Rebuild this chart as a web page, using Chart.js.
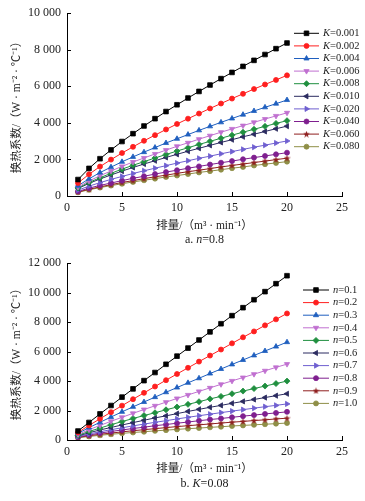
<!DOCTYPE html>
<html>
<head>
<meta charset="utf-8">
<script src="https://cdn.jsdelivr.net/npm/chart.js@4.4.1/dist/chart.umd.min.js"></script>
<style>
html, body { margin: 0; padding: 0; background: #fff; }
#wrap { position: relative; width: 365px; height: 501px; }
#c1 { position: absolute; left: 0; top: 0; }
#c2 { position: absolute; left: 0; top: 250px; }
</style>
</head>
<body>
<div id="wrap">
  <canvas id="c1" width="365" height="250"></canvas>
  <canvas id="c2" width="365" height="251"></canvas>
</div>
<script>
// flow rate (m3/min)
var flow = [1,2,3,4,5,6,7,8,9,10,11,12,13,14,15,16,17,18,19,20];

// chart a: n = 0.8, different K
var kLabels = ['0.001','0.002','0.004','0.006','0.008','0.010','0.020','0.040','0.060','0.080'];
var hK001 = [900,1510,2040,2520,2980,3410,3830,4230,4620,4990,5360,5720,6070,6420,6760,7090,7420,7740,8060,8370];
var hK002 = [710,1190,1610,1990,2350,2690,3020,3330,3640,3940,4230,4510,4790,5060,5330,5590,5850,6100,6350,6600];
var hK004 = [560,940,1280,1580,1870,2140,2400,2650,2900,3130,3360,3590,3810,4030,4240,4450,4650,4850,5050,5250];
var hK006 = [490,820,1110,1370,1620,1860,2080,2300,2510,2720,2910,3110,3300,3490,3670,3850,4030,4210,4380,4550];
var hK008 = [440,740,1000,1240,1470,1680,1880,2080,2270,2460,2640,2820,2990,3160,3330,3490,3650,3810,3970,4120];
var hK010 = [410,690,930,1150,1360,1560,1750,1930,2110,2280,2450,2610,2770,2930,3080,3240,3380,3530,3680,3820];
var hK020 = [320,540,730,910,1070,1230,1380,1520,1660,1800,1930,2060,2180,2310,2430,2550,2670,2780,2900,3010];
var hK040 = [250,430,580,710,840,970,1080,1200,1310,1410,1520,1620,1720,1820,1910,2010,2100,2190,2280,2370];
var hK060 = [220,370,500,620,740,840,950,1050,1140,1240,1330,1410,1500,1590,1670,1750,1830,1910,1990,2070];
var hK080 = [200,340,460,570,670,770,860,950,1040,1120,1200,1290,1360,1440,1520,1590,1670,1740,1810,1880];

// chart b: K = 0.08, different n
var nLabels = ['0.1','0.2','0.3','0.4','0.5','0.6','0.7','0.8','0.9','1.0'];
var hN01 = [610,1190,1770,2340,2910,3470,4030,4580,5140,5690,6240,6790,7340,7890,8440,8980,9520,10070,10610,11150];
var hN02 = [510,990,1440,1890,2330,2770,3200,3630,4060,4480,4900,5320,5730,6140,6560,6970,7370,7780,8190,8590];
var hN03 = [450,840,1200,1560,1910,2250,2580,2910,3240,3560,3880,4190,4510,4820,5130,5430,5740,6040,6340,6640];
var hN04 = [380,700,990,1270,1540,1810,2070,2320,2570,2820,3060,3300,3540,3780,4010,4240,4470,4700,4930,5150];
var hN05 = [320,580,810,1040,1250,1460,1660,1850,2050,2240,2420,2600,2790,2960,3140,3320,3490,3660,3830,4000];
var hN06 = [280,490,680,850,1020,1180,1340,1500,1640,1790,1940,2080,2220,2350,2490,2620,2750,2880,3010,3140];
var hN07 = [240,410,560,700,830,960,1080,1200,1310,1430,1540,1650,1750,1860,1960,2060,2160,2260,2350,2450];
var hN08 = [210,340,470,580,680,780,870,970,1050,1140,1220,1310,1390,1460,1540,1620,1690,1770,1840,1910];
var hN09 = [180,290,390,470,550,630,700,770,840,910,970,1030,1090,1150,1210,1260,1320,1370,1430,1480];
var hN10 = [150,240,320,390,450,510,560,620,670,720,770,810,860,900,950,990,1030,1070,1110,1150];

var seriesA = [hK001,hK002,hK004,hK006,hK008,hK010,hK020,hK040,hK060,hK080];
var seriesB = [hN01,hN02,hN03,hN04,hN05,hN06,hN07,hN08,hN09,hN10];

var SERIF = '"Liberation Serif", "Noto Sans CJK SC", serif';
Chart.defaults.font.family = SERIF;
Chart.defaults.color = '#222';

// small filled star for the 9th series
function makeStar(color) {
  var c = document.createElement('canvas');
  c.width = 7; c.height = 7;
  var g = c.getContext('2d');
  g.fillStyle = color;
  g.beginPath();
  for (var i = 0; i < 10; i++) {
    var r = i % 2 ? 1.5 : 3.5;
    var a = -Math.PI / 2 + i * Math.PI / 5;
    g.lineTo(3.5 + r * Math.cos(a), 3.8 + r * Math.sin(a));
  }
  g.closePath();
  g.fill();
  return c;
}

var looks = [
  { color: '#000000', style: 'rect', rot: 0, r: 3.3 },
  { color: '#ff1f1f', style: 'circle', rot: 0, r: 2.5 },
  { color: '#1f5fbf', style: 'triangle', rot: 0, r: 3 },
  { color: '#c070d0', style: 'triangle', rot: 180, r: 3 },
  { color: '#1f8f3f', style: 'rectRot', rot: 0, r: 3 },
  { color: '#2b2b60', style: 'triangle', rot: 270, r: 3 },
  { color: '#6f5fd0', style: 'triangle', rot: 90, r: 3 },
  { color: '#7f1f8f', style: 'circle', rot: 0, r: 2.5 },
  { color: '#8f1f1f', style: makeStar('#8f1f1f'), rot: 0, r: 3 },
  { color: '#8f8f47', style: 'circle', rot: 0, r: 2.5 }
];

function fmt(v) {
  if (v < 1000) return String(v);
  var t = Math.floor(v / 1000), rest = String(v % 1000);
  while (rest.length < 3) rest = '0' + rest;
  return t + ' ' + rest;
}

function drawMixed(ctx, parts, x, y, size, align) {
  var w = 0;
  parts.forEach(function (p) {
    ctx.font = (p[1] ? 'italic ' : '') + size + 'px ' + SERIF;
    w += ctx.measureText(p[0]).width;
  });
  var cx = align === 'center' ? x - w / 2 : x;
  parts.forEach(function (p) {
    ctx.font = (p[1] ? 'italic ' : '') + size + 'px ' + SERIF;
    ctx.fillText(p[0], cx, y);
    cx += ctx.measureText(p[0]).width;
  });
}

function makeChart(id, series, labels, sym, yMax, g, caption) {
  var datasets = series.map(function (arr, i) {
    var lk = looks[i];
    return {
      label: sym + '=' + labels[i],
      data: arr.map(function (v, j) { return { x: flow[j], y: v }; }),
      borderColor: lk.color,
      backgroundColor: lk.color,
      borderWidth: 1,
      pointStyle: lk.style,
      pointRotation: lk.rot,
      pointRadius: lk.r,
      pointBorderWidth: 0.8,
      tension: 0
    };
  });

  var extras = {
    id: 'extras',
    afterDraw: function (chart) {
      var ctx = chart.ctx, a = chart.chartArea;
      var xs = chart.scales.x, ys = chart.scales.y;
      ctx.save();
      // inward tick marks
      ctx.strokeStyle = '#000';
      ctx.lineWidth = 1;
      ctx.beginPath();
      xs.ticks.forEach(function (t) {
        var p = Math.round(xs.getPixelForValue(t.value)) + 0.5;
        ctx.moveTo(p, a.bottom);
        ctx.lineTo(p, a.bottom - 4);
      });
      ys.ticks.forEach(function (t) {
        var p = Math.round(ys.getPixelForValue(t.value)) + 0.5;
        ctx.moveTo(a.left, p);
        ctx.lineTo(a.left + 4, p);
      });
      ctx.stroke();
      // legend
      chart.data.datasets.forEach(function (ds, i) {
        var y = g.ly0 + i * 12.6;
        ctx.strokeStyle = ds.borderColor;
        ctx.lineWidth = 1;
        ctx.beginPath();
        ctx.moveTo(g.lx0, y);
        ctx.lineTo(g.lx1, y);
        ctx.stroke();
        ctx.fillStyle = ds.backgroundColor;
        ctx.lineWidth = 0.8;
        Chart.helpers.drawPoint(ctx, {
          pointStyle: ds.pointStyle, rotation: ds.pointRotation,
          radius: ds.pointRadius, borderWidth: 0.8
        }, (g.lx0 + g.lx1) / 2, y);
        ctx.fillStyle = '#222';
        ctx.textBaseline = 'middle';
        ctx.textAlign = 'left';
        drawMixed(ctx, [[sym, true], ['=' + labels[i], false]], g.lx1 + 4, y, 10.5, 'left');
      });
      // caption
      ctx.fillStyle = '#222';
      ctx.textBaseline = 'middle';
      ctx.textAlign = 'left';
      drawMixed(ctx, caption, (a.left + a.right) / 2, g.capY, 12, 'center');
      ctx.restore();
    }
  };

  return new Chart(document.getElementById(id), {
    type: 'line',
    data: { datasets: datasets },
    options: {
      responsive: false,
      animation: false,
      devicePixelRatio: 1,
      layout: { padding: { left: 0, right: 23, top: g.top, bottom: g.padBottom } },
      plugins: { legend: { display: false }, tooltip: { enabled: false } },
      scales: {
        x: {
          type: 'linear', min: 0, max: 25,
          ticks: { stepSize: 5, padding: 5, font: { size: 12 }, color: '#222' },
          grid: { display: false, drawTicks: false },
          border: { display: true, color: '#000', width: 1 },
          title: { display: true, text: '排量/（m³ · min⁻¹）', font: { size: 11.5 }, color: '#222', padding: { top: 0, bottom: 0 } },
          afterFit: function (s) { s.height = g.xh; }
        },
        y: {
          min: 0, max: yMax,
          ticks: { stepSize: 2000, padding: 6, font: { size: 12 }, color: '#222', callback: function (v) { return fmt(v); } },
          grid: { display: false, drawTicks: false },
          border: { display: true, color: '#000', width: 1 },
          title: { display: true, text: '换热系数/（W · m⁻² · ℃⁻¹）', font: { size: 11.5 }, color: '#222', padding: { top: 10, bottom: 0 } },
          afterFit: function (s) { s.width = 67; }
        }
      }
    },
    plugins: [extras]
  });
}

makeChart('c1', seriesA, kLabels, 'K', 10000,
  { top: 13, padBottom: 17.4, xh: 36.6, lx0: 294, lx1: 319, ly0: 33.3, capY: 240 },
  [['a. ', false], ['n', true], ['=0.8', false]]);

makeChart('c2', seriesB, nLabels, 'n', 12000,
  { top: 6, padBottom: 25.4, xh: 35.6, lx0: 303, lx1: 329, ly0: 40, capY: 234 },
  [['b. ', false], ['K', true], ['=0.08', false]]);
</script>
</body>
</html>
